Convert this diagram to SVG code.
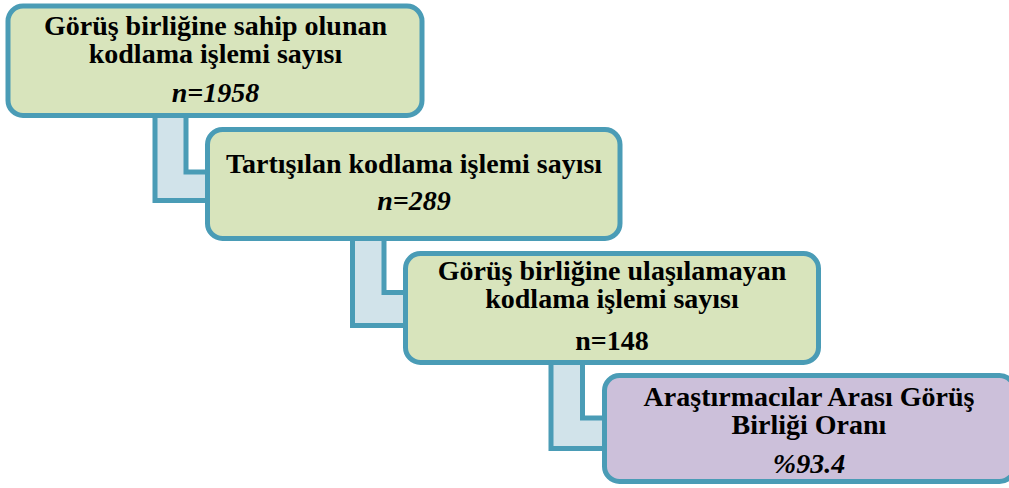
<svg xmlns="http://www.w3.org/2000/svg" width="1009" height="488" viewBox="0 0 1009 488">
<style>
.box{stroke:#4a9cb6;stroke-width:5}
.g{fill:#d8e4bc}
.p{fill:#ccc0da}
.conn{fill:#d1e3ea;stroke:#4a9cb6;stroke-width:5;stroke-linejoin:miter}
.t{font-family:'Liberation Serif','Times New Roman',serif;font-weight:bold;font-size:28px;fill:#000;text-anchor:middle}
.i{font-style:italic}
</style>
<rect width="1009" height="488" fill="#ffffff"/>
<g id="connectors">
<path class="conn" d="M155,110 V200.5 H212 V172 H186 V110 Z"/>
<path class="conn" d="M352.5,235 V325.5 H410 V292.5 H384 V235 Z"/>
<path class="conn" d="M551,360 V448.5 H609 V418 H582.5 V360 Z"/>
</g>
<g id="node1">
<rect class="box g" x="8" y="6" width="414" height="109.5" rx="15"/>
<text class="t" x="215.5" y="35">Görüş birliğine sahip olunan</text>
<text class="t" x="215.5" y="63">kodlama işlemi sayısı</text>
<text class="t i" x="215.5" y="102">n=1958</text>
</g>
<g id="node2">
<rect class="box g" x="207.5" y="129.5" width="412.5" height="109" rx="15"/>
<text class="t" x="414" y="173">Tartışılan kodlama işlemi sayısı</text>
<text class="t i" x="414" y="210">n=289</text>
</g>
<g id="node3">
<rect class="box g" x="405.5" y="253.5" width="413" height="109" rx="15"/>
<text class="t" x="612" y="280">Görüş birliğine ulaşılamayan</text>
<text class="t" x="612" y="308">kodlama işlemi sayısı</text>
<text class="t" x="612" y="350">n=148</text>
</g>
<g id="node4">
<rect class="box p" x="604.5" y="375.5" width="410" height="106" rx="15"/>
<text class="t" x="809" y="406">Araştırmacılar Arası Görüş</text>
<text class="t" x="809" y="434">Birliği Oranı</text>
<text class="t i" x="809" y="473">%93.4</text>
</g>
</svg>
